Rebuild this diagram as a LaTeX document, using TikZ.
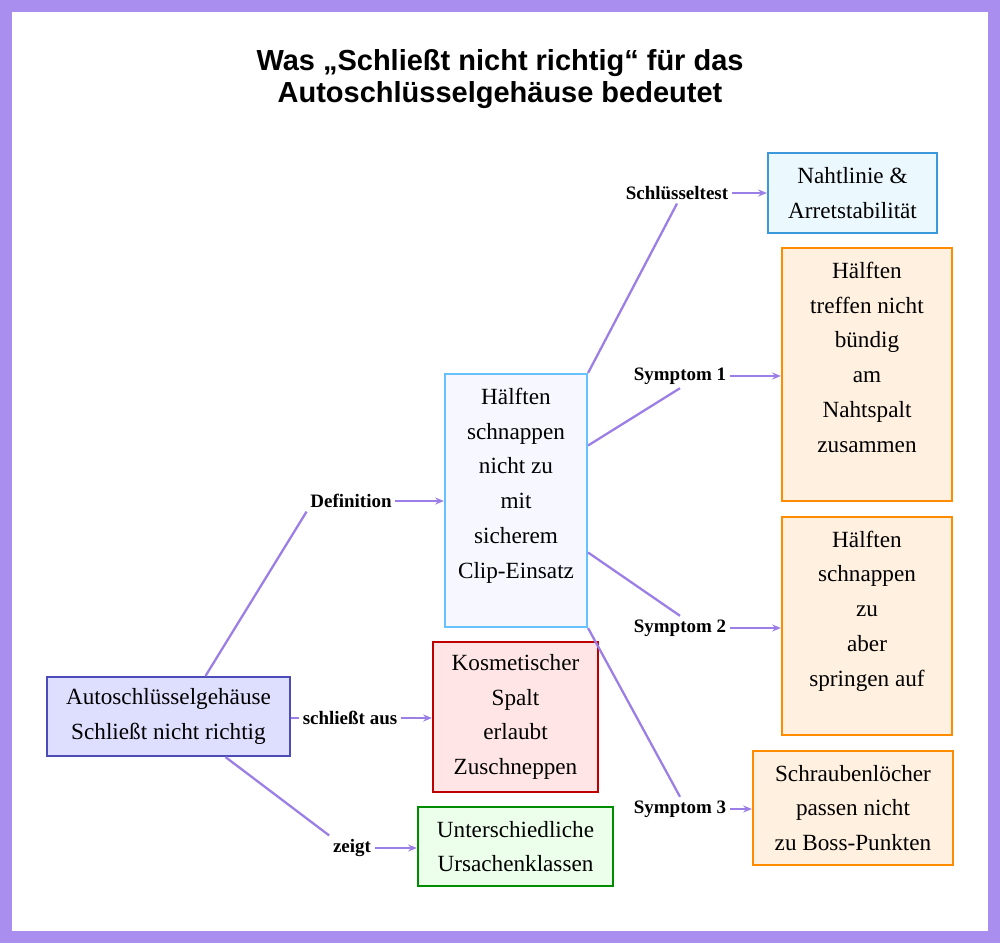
\documentclass[tikz,border=0pt]{standalone}
\usepackage{fontspec}
\setmainfont{Liberation Serif}
\newfontfamily\titlefont{Liberation Sans}
\usetikzlibrary{arrows.meta}
\definecolor{frame}{HTML}{A98EF0}
\definecolor{edge}{HTML}{9B7FE6}
\tikzset{
 box/.style={draw, line width=1.2pt, align=center, inner sep=0pt, font=\fontsize{13.2}{19.8}\selectfont},
 lbl/.style={fill=white, font=\bfseries\fontsize{10.8}{12}\selectfont, inner sep=2pt},
 con/.style={draw=edge, line width=1.3pt},
 arr/.style={con, -{Stealth[length=5pt,width=4pt]}},
}
\begin{document}
\begin{tikzpicture}[x=0.02cm,y=-0.02cm]
\useasboundingbox (0,0) rectangle (1000,943);
\fill[frame] (0,0) rectangle (1000,943);
\fill[white] (12,12) rectangle (988,931);
\node[font=\titlefont\bfseries\fontsize{16.5}{18.5}\selectfont, align=center] (title) at (500,79) {Was „Schließt nicht richtig“ für das\\Autoschlüsselgehäuse bedeutet};

\node[box, draw=blue!60!black!70, fill=blue!13, minimum width=243*0.02cm, minimum height=79*0.02cm] (root) at (168.5,716.5) {Autoschlüsselgehäuse\\Schließt nicht richtig};
\node[box, draw=blue!40!cyan!60, fill=blue!3, minimum width=142*0.02cm, minimum height=253*0.02cm] (def) at (516,500.5) {Hälften\\schnappen\\nicht zu\\mit\\sicherem\\Clip-Einsatz\\\mbox{}};
\node[box, draw=cyan!70!blue!80, fill=cyan!8, minimum width=169*0.02cm, minimum height=80*0.02cm] (naht) at (852.5,193) {Nahtlinie \&\\Arretstabilität};
\node[box, draw=orange!90!yellow, fill=orange!12, minimum width=170*0.02cm, minimum height=253*0.02cm] (s1) at (867,374.5) {Hälften\\treffen nicht\\bündig\\am\\Nahtspalt\\zusammen\\\mbox{}};
\node[box, draw=orange!90!yellow, fill=orange!12, minimum width=170*0.02cm, minimum height=218*0.02cm] (s2) at (867,626) {Hälften\\schnappen\\zu\\aber\\springen auf\\\mbox{}};
\node[box, draw=orange!90!yellow, fill=orange!12, minimum width=200*0.02cm, minimum height=114*0.02cm] (s3) at (853,808) {Schraubenlöcher\\passen nicht\\zu Boss-Punkten};
\node[box, draw=red!75!black, fill=red!10, minimum width=165*0.02cm, minimum height=150*0.02cm] (kos) at (515.5,717) {Kosmetischer\\Spalt\\erlaubt\\Zuschneppen};
\node[box, draw=green!55!black, fill=green!8, minimum width=195*0.02cm, minimum height=79*0.02cm] (urs) at (515.5,846.5) {Unterschiedliche\\Ursachenklassen};

\node[lbl] (ldef) at (351,501) {Definition};
\node[lbl] (ltest) at (677,193) {Schlüsseltest};
\node[lbl] (ls1) at (680,376) {Symptom 1};
\node[lbl] (ls2) at (680,628) {Symptom 2};
\node[lbl] (ls3) at (680,809) {Symptom 3};
\node[lbl] (laus) at (350,718) {schließt aus};
\node[lbl] (lzeigt) at (352,848) {zeigt};

\draw[con] (root.north) ++(37,0) coordinate (r1) -- (ldef.south west);
\draw[arr] (ldef) -- (def.west |- ldef);
\draw[con] (def.north east) -- (ltest.south);
\draw[arr] (ltest) -- (naht.west |- ltest);
\draw[con] (def.east) ++(0,-55) coordinate (d1) -- (ls1.south);
\draw[arr] (ls1) -- (s1.west |- ls1);
\draw[con] (def.east) ++(0,52) coordinate (d2) -- (ls2.north);
\draw[arr] (ls2) -- (s2.west |- ls2);
\draw[con] (def.south east) -- (ls3.north);
\draw[arr] (ls3) -- (s3.west |- ls3);
\draw[con] (root.east |- laus) -- (laus);
\draw[arr] (laus) -- (kos.west |- laus);
\draw[con] (root.south) ++(57,0) coordinate (r2) -- (lzeigt.north west);
\draw[arr] (lzeigt) -- (urs.west |- lzeigt);
\end{tikzpicture}
\end{document}
